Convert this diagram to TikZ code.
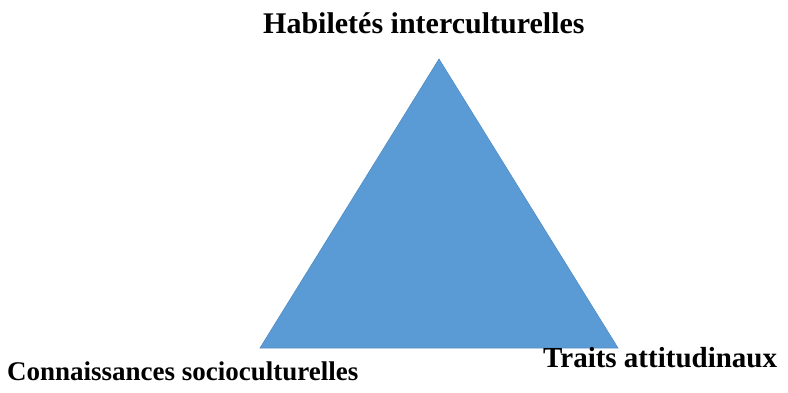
\documentclass[tikz,border=0pt]{standalone}
\usepackage{fontspec}
\setmainfont{Liberation Serif}
\begin{document}
\begin{tikzpicture}[
x=1pt, y=-1pt,
corner/.style={
% The font:
font=\bfseries\fontsize{#1}{34}\selectfont,
% Placed on its baseline, from the left
anchor=base west,
inner sep=0pt
},
corner/.default=29,
face/.style={
% The filling:
fill={rgb,255:red,91;green,155;blue,213},
% The border:
draw={rgb,255:red,80;green,140;blue,196},
line width=0.6pt
}]
\useasboundingbox (0,0) rectangle (788,392);
\coordinate (apex) at (439,59);
\coordinate (left) at (260,348);
\coordinate (right) at (618,348);
\path[face] (apex) -- (left) -- (right) -- cycle;
\node[corner=30] (habiletes) at (263,33) {Habiletés interculturelles};
\node[corner=27] (connaissances) at (7,380) {Connaissances socioculturelles};
\node[corner] (traits) at (543,367) {Traits attitudinaux};
\end{tikzpicture}
\end{document}
